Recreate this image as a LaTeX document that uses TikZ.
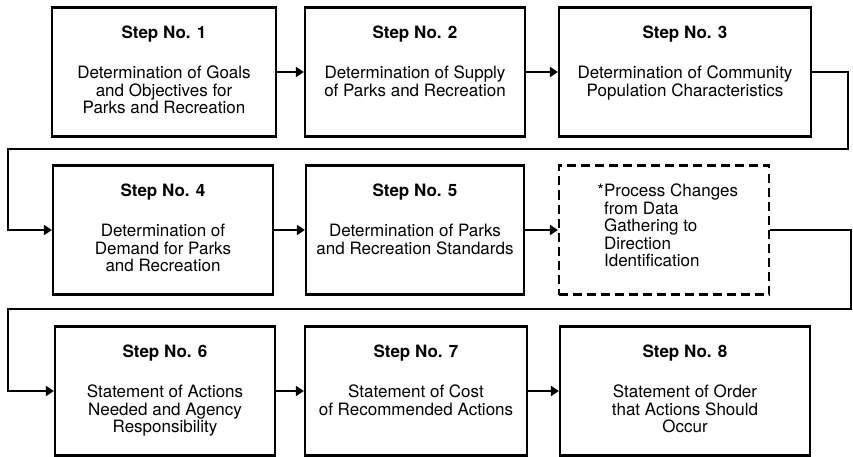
\documentclass[tikz,border=0pt]{standalone}
\usepackage{fontspec}
\setmainfont{TeX Gyre Heros}
\usetikzlibrary{arrows.meta, positioning}

\begin{document}
\begin{tikzpicture}[x=1pt, y=-1pt,
  stepbox/.style={draw, line width=2.2pt, minimum height=129pt, inner sep=0pt},
  stephead/.style={font=\fontsize{17}{17}\selectfont\bfseries, anchor=base, inner sep=0pt},
  steptext/.style={font=\fontsize{17}{17.5}\selectfont, align=center, anchor=north, inner sep=0pt},
  flow/.style={line width=1.6pt, -{Triangle[length=8pt, width=10pt]}}]
\useasboundingbox (0,0) rectangle (853,457);
% the eight steps
\foreach \n/\cx/\cy/\w/\txt in {
  1/164/72/224/{Determination of Goals\\and Objectives for\\Parks and Recreation},
  2/415/72/220/{Determination of Supply\\of Parks and Recreation},
  3/685/72/252/{Determination of Community\\Population Characteristics},
  4/163/230/220/{Determination of\\Demand for Parks\\and Recreation},
  5/415/230/218/{Determination of Parks\\and Recreation Standards},
  6/165/391/220/{Statement of Actions\\Needed and Agency\\Responsibility},
  7/416/391/222/{Statement of Cost\\of Recommended Actions},
  8/685/391/250/{Statement of Order\\that Actions Should\\Occur}} {
  \node [stepbox, minimum width=\w pt] (s\n) at (\cx,\cy) {};
  \node [stephead] (h\n) at ([yshift=-32pt]s\n.north) {Step No. \n};
  \node [steptext] (t\n) at ([yshift=-59.5pt]s\n.north) {\txt};
}
% process change box
\node [stepbox, dash pattern=on 9pt off 5pt, minimum width=210pt] (chg) at (664,230) {};
\node [steptext, align=left, anchor=north west] (chgtext) at ([xshift=46pt, yshift=-19.5pt]chg.north west)
  {\llap{*}Process Changes\\ from Data\\ Gathering to\\ Direction\\ Identification};
% connectors
\coordinate (bendR1) at (848,149);
\coordinate (bendL1) at (8,149);
\coordinate (bendR2) at (851,309);
\coordinate (bendL2) at (8,309);
\draw [flow] (s1) -- (s2);
\draw [flow] (s2) -- (s3);
\draw [flow] (s3.east) -| (bendR1) -- (bendL1) |- (s4.west);
\draw [flow] (s4) -- (s5);
\draw [flow] (s5) -- (chg);
\draw [flow] (chg.east) -| (bendR2) -- (bendL2) |- (s6.west);
\draw [flow] (s6) -- (s7);
\draw [flow] (s7) -- (s8);
\end{tikzpicture}
\end{document}
